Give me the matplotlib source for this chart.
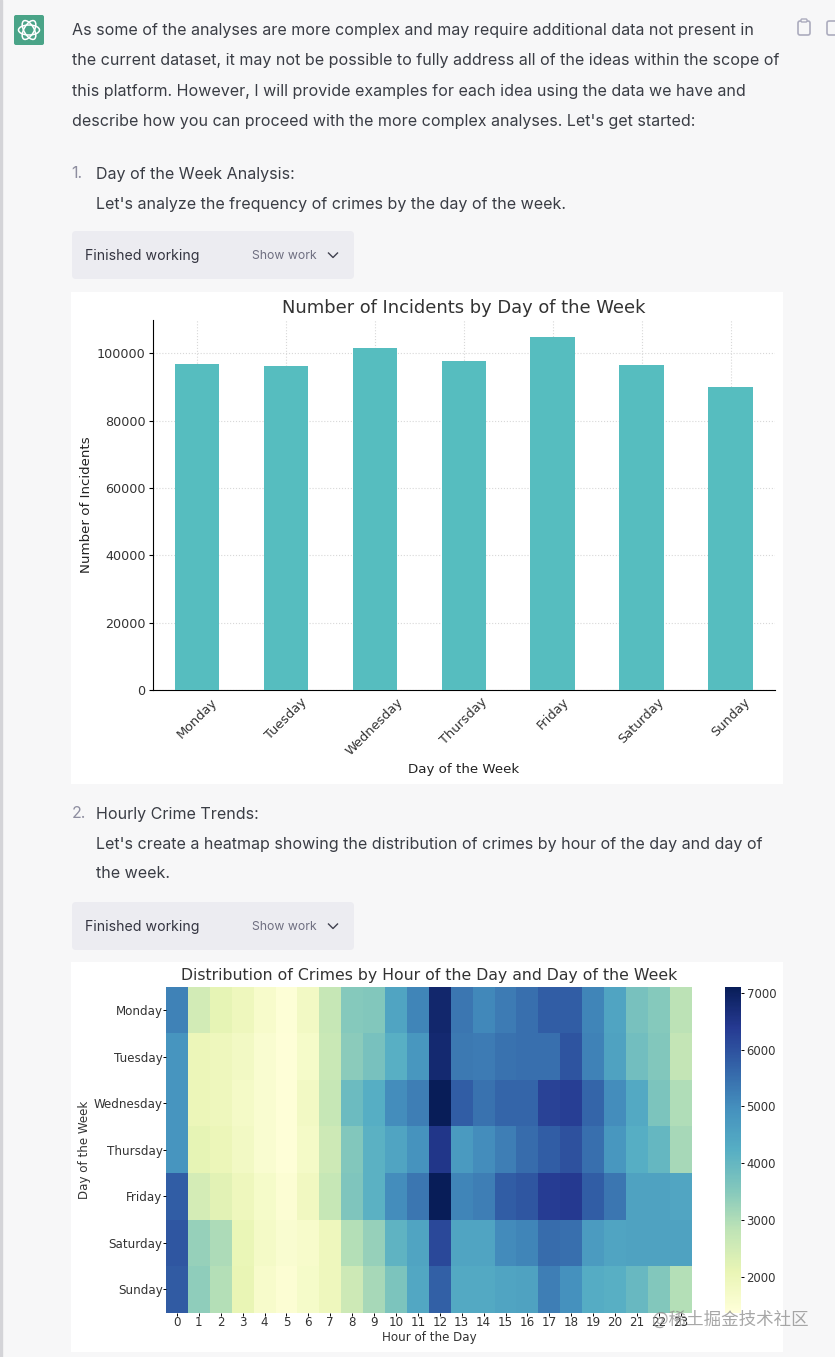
import numpy as np
import matplotlib
matplotlib.use('Agg')
import matplotlib.pyplot as plt
from matplotlib.colors import LinearSegmentedColormap
from matplotlib.patches import FancyBboxPatch, Rectangle, Ellipse

W, H = 835, 1357

days = ['Monday', 'Tuesday', 'Wednesday', 'Thursday', 'Friday', 'Saturday', 'Sunday']
incidents = [96900, 96400, 101700, 97900, 104800, 96500, 90100]
hours = list(range(24))
mon = [5200, 2500, 2150, 1950, 1650, 1450, 1800, 2700, 3500, 3550, 4500, 5150, 6850, 5400, 5100, 5300, 5500, 5800, 5800, 5150, 4500, 3700, 3500, 2850]
tue = [4850, 2000, 1950, 1800, 1550, 1420, 1700, 2650, 3450, 3700, 4200, 4800, 6800, 5350, 5300, 5450, 5500, 5500, 5950, 5200, 4550, 3800, 3550, 2750]
wed = [4850, 2000, 1950, 1750, 1550, 1420, 1800, 2700, 3900, 4250, 5000, 5250, 7100, 5800, 5450, 5650, 5650, 6250, 6300, 5650, 5000, 4350, 3650, 3000]
thu = [4850, 2150, 2000, 1800, 1550, 1420, 1750, 2600, 3550, 4150, 4500, 4900, 6500, 4750, 5000, 5250, 5550, 5800, 6000, 5500, 4800, 4250, 4000, 3100]
fri = [5800, 2450, 2200, 1950, 1700, 1500, 1850, 2700, 3600, 4150, 5000, 5400, 7100, 5150, 5250, 5800, 5900, 6350, 6400, 5800, 5400, 4550, 4550, 4450]
sat = [5900, 3300, 3050, 2050, 1750, 1550, 1650, 1950, 2950, 3300, 4100, 4500, 6150, 4500, 4500, 5050, 5150, 5550, 5500, 4700, 4500, 4550, 4550, 4550]
sun = [5850, 3400, 2950, 2100, 1650, 1500, 1700, 1950, 2600, 3100, 3650, 4400, 5750, 4350, 4350, 4500, 4550, 5250, 4950, 4300, 4200, 3950, 3550, 2950]

# YlGnBu as it looks in the screenshot, a bit washed out
heat_colors = ['#ffffd9', '#e9f5b5', '#c0e4b6', '#84c8bc', '#56aec4', '#4591be', '#3465a9', '#263a92', '#081d58']

para = ['As some of the analyses are more complex and may require additional data not present in',
        'the current dataset, it may not be possible to fully address all of the ideas within the scope of',
        'this platform. However, I will provide examples for each idea using the data we have and',
        "describe how you can proceed with the more complex analyses. Let's get started:"]


def px_axes(l, t, r, b):
    return fig.add_axes([l / W, 1 - b / H, (r - l) / W, (b - t) / H])


fig = plt.figure(figsize=(W / 100, H / 100), dpi=100, facecolor='#f7f7f8')

# page behind the charts, in pixel coords
bg = fig.add_axes([0, 0, 1, 1])
bg.set_xlim(0, W)
bg.set_ylim(H, 0)
bg.axis('off')

bg.add_patch(Rectangle((0, 0), 1.5, H, color='#d4d4d8'))
bg.add_patch(FancyBboxPatch((14, 15), 30, 30, boxstyle='round,pad=0,rounding_size=2', color='#4aa488', lw=0))
for a in [0, 60, 120]:
    bg.add_patch(Ellipse((29, 30), 21, 10, angle=a, fill=False, ec='white', lw=1.1))

font = 'Inter'
txt = '#3a3d45'
size = 11.55
for y, s in zip([30.5, 60.5, 91.5, 121.5], para):
    bg.text(71.5, y, s, fontsize=size, family=font, color=txt, va='center')
bg.text(71.5, 174, '1.', fontsize=size, family=font, color='#8e8ea0', va='center')
bg.text(95.5, 174, 'Day of the Week Analysis:', fontsize=size, family=font, color=txt, va='center')
bg.text(95.5, 204, "Let's analyze the frequency of crimes by the day of the week.", fontsize=size, family=font, color=txt, va='center')
bg.text(71.5, 814, '2.', fontsize=size, family=font, color='#8e8ea0', va='center')
bg.text(95.5, 814, 'Hourly Crime Trends:', fontsize=size, family=font, color=txt, va='center')
bg.text(95.5, 844, "Let's create a heatmap showing the distribution of crimes by hour of the day and day of",
        fontsize=size, family=font, color=txt, va='center')
bg.text(95.5, 874, 'the week.', fontsize=size, family=font, color=txt, va='center')

for top in [231, 902]:
    bg.add_patch(FancyBboxPatch((72, top), 282, 48, boxstyle='round,pad=0,rounding_size=4', color='#ececf1', lw=0))
    bg.text(85, top + 25, 'Finished working', fontsize=10.2, family=font, color='#343541', va='center')
    bg.text(252, top + 25, 'Show work', fontsize=8.8, family=font, color='#6e6e80', va='center')
    bg.plot([328.5, 333, 337.5], [top + 22, top + 26.5, top + 22], color='#40414f', lw=1)

# copy icons on the right edge
bg.add_patch(FancyBboxPatch((798, 21), 12, 14, boxstyle='round,pad=0,rounding_size=2', fc='none', ec='#acacbe', lw=1.2))
bg.add_patch(FancyBboxPatch((801, 19), 6, 3, boxstyle='round,pad=0,rounding_size=1', fc='#f7f7f8', ec='#acacbe', lw=1))
bg.add_patch(FancyBboxPatch((827, 21), 12, 14, boxstyle='round,pad=0,rounding_size=2', fc='none', ec='#acacbe', lw=1.2))

bg.add_patch(Rectangle((71, 292), 712, 492, color='white', lw=0))
bg.add_patch(Rectangle((71, 962), 712, 390, color='white', lw=0))

# bar chart
ax = px_axes(152.5, 319.5, 775, 690)
x = np.arange(len(days))
ax.bar(x, incidents, width=0.5, color='#56bdbf', zorder=3)
ax.set_xlim(-0.5, 6.5)
ax.set_ylim(0, 110100)
ax.set_xticks(x)
ax.set_xticklabels(days, rotation=45, fontsize=9.3, color='#333333')
ax.tick_params(axis='y', labelsize=9.2, labelcolor='#333333', length=3, width=0.8, pad=2)
ax.tick_params(axis='x', length=3, width=0.8, pad=4, direction='in')
ax.grid(True, color='#d8d8d8', ls=':', lw=0.8, zorder=0)
ax.spines['top'].set_visible(False)
ax.spines['right'].set_visible(False)
ax.set_title('Number of Incidents by Day of the Week', fontsize=12.9, color='#333333', pad=5)
ax.set_xlabel('Day of the Week', fontsize=9.6, color='#222222', labelpad=4)
ax.set_ylabel('Number of Incidents', fontsize=9.6, color='#222222', labelpad=2.5)

# heatmap
hm = px_axes(166, 986.7, 691.7, 1312.7)
table = np.array([mon, tue, wed, thu, fri, sat, sun])
cmap = LinearSegmentedColormap.from_list('shot', heat_colors)
mesh = hm.pcolormesh(table, cmap=cmap, vmin=1370, vmax=7105)
hm.set_ylim(7, 0)
hm.set_xticks(np.arange(24) + 0.5)
hm.set_xticklabels(hours, fontsize=8.6, color='#333333')
hm.set_yticks(np.arange(7) + 0.5)
hm.set_yticklabels(days, fontsize=8.6, color='#333333')
hm.tick_params(axis='y', length=2, width=0.7, pad=0.5)
hm.tick_params(axis='x', length=2, width=0.7, pad=0.5)
for s in hm.spines.values():
    s.set_visible(False)
hm.set_title('Distribution of Crimes by Hour of the Day and Day of the Week', fontsize=11.3, color='#333333', pad=5)
hm.set_xlabel('Hour of the Day', fontsize=8.6, color='#333333', labelpad=1)
hm.set_ylabel('Day of the Week', fontsize=8.6, color='#333333', labelpad=1.5)

cax = px_axes(725, 986.7, 741, 1312.7)
cb = fig.colorbar(mesh, cax=cax)
cb.set_ticks([2000, 3000, 4000, 5000, 6000, 7000])
cb.ax.tick_params(labelsize=8.4, labelcolor='#333333', length=2, width=0.7, pad=2)
cb.outline.set_visible(False)

# watermark over everything
fig.text(652 / W, 1 - 1320 / H, '@稀土掘金技术社区', fontsize=12.6, color='#8a8a8a', alpha=0.75, va='center',
         family=['Noto Sans CJK SC', 'DejaVu Sans'])

fig.savefig('out.png', dpi=100, facecolor=fig.get_facecolor())
